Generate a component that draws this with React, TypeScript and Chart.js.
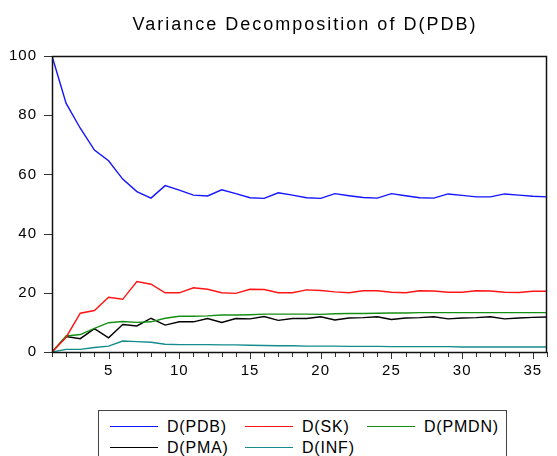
import React, { useEffect, useRef } from "react";
import { Chart, registerables } from "chart.js";

Chart.register(...registerables);

const TITLE = "Variance Decomposition of D(PDB)";
const periods = [1, 2, 3, 4, 5, 6, 7, 8, 9, 10, 11, 12, 13, 14, 15, 16, 17, 18, 19, 20, 21, 22, 23, 24, 25, 26, 27, 28, 29, 30, 31, 32, 33, 34, 35, 36];
const xTickLabels = [5, 10, 15, 20, 25, 30, 35];
const yTicks = [0, 20, 40, 60, 80, 100];

const seriesNames = ["D(PDB)", "D(SK)", "D(PMDN)", "D(PMA)", "D(INF)"];
const seriesColors = ["#1414ff", "#ff1414", "#139013", "#000000", "#148c8c"];

const pdb = [100, 84.0, 75.6, 68.2, 64.6, 58.4, 54.2, 52.0, 56.2, 54.7, 53.0, 52.7, 54.8, 53.5, 52.1, 51.9, 53.8, 53.0, 52.1, 51.9, 53.5, 52.8, 52.2, 52.0, 53.5, 52.8, 52.1, 52.0, 53.4, 52.9, 52.4, 52.4, 53.4, 53.0, 52.6, 52.4];
const sk = [0, 5.0, 13.1, 14.0, 18.5, 17.8, 23.8, 22.9, 20.0, 20.0, 21.7, 21.2, 20.0, 19.8, 21.2, 21.1, 20.0, 20.0, 21.0, 20.8, 20.3, 20.0, 20.7, 20.7, 20.2, 20.0, 20.7, 20.6, 20.2, 20.2, 20.7, 20.6, 20.2, 20.1, 20.5, 20.5];
const pmdn = [0, 5.4, 5.9, 8.0, 9.9, 10.3, 10.0, 10.2, 11.4, 12.1, 12.1, 12.2, 12.5, 12.5, 12.6, 12.8, 12.8, 12.8, 12.8, 12.7, 12.9, 13.0, 13.0, 13.1, 13.2, 13.2, 13.3, 13.3, 13.3, 13.3, 13.3, 13.3, 13.3, 13.3, 13.3, 13.3];
const pma = [0, 5.2, 4.5, 7.9, 4.8, 9.3, 8.8, 11.4, 9.1, 10.2, 10.2, 11.3, 10.0, 11.3, 11.2, 12.0, 10.7, 11.3, 11.3, 11.9, 10.8, 11.5, 11.6, 11.9, 11.0, 11.5, 11.6, 11.9, 11.2, 11.5, 11.6, 11.9, 11.2, 11.5, 11.7, 11.8];
const inf = [0, 0.9, 0.9, 1.5, 2.0, 3.7, 3.5, 3.3, 2.6, 2.5, 2.5, 2.5, 2.4, 2.4, 2.3, 2.2, 2.1, 2.1, 2.0, 2.0, 2.0, 1.9, 1.9, 1.9, 1.8, 1.8, 1.8, 1.8, 1.8, 1.7, 1.7, 1.7, 1.7, 1.7, 1.7, 1.7];

const seriesValues = [pdb, sk, pmdn, pma, inf];

const framePlugin = {
  id: "frame",
  beforeDraw(chart: any) {
    chart.ctx.letterSpacing = "1px";
  },
  afterDraw(chart: any) {
    const { ctx, chartArea, scales } = chart;
    const { left, right, top, bottom } = chartArea;
    ctx.save();
    ctx.strokeStyle = "#333";
    ctx.lineWidth = 1;
    // ticks x
    for (const p of periods) {
      const x = Math.round(scales.x.getPixelForValue(p)) + 0.5;
      const len = p % 5 === 0 ? 7 : 5;
      ctx.beginPath();
      ctx.moveTo(x, bottom);
      ctx.lineTo(x, bottom + len);
      ctx.stroke();
    }
    for (const v of yTicks) {
      const y = Math.round(scales.y.getPixelForValue(v)) + 0.5;
      ctx.beginPath();
      ctx.moveTo(left - 8, y);
      ctx.lineTo(left, y);
      ctx.stroke();
    }
    ctx.strokeStyle = "#111";
    ctx.lineWidth = 1.5;
    ctx.strokeRect(Math.round(left) + 0.5, Math.round(top) + 0.5, Math.round(right - left) - 1, Math.round(bottom - top));
    ctx.restore();
  },
};

export default function App() {
  const ref = useRef<HTMLCanvasElement | null>(null);
  useEffect(() => {
    if (!ref.current) return;
    const chart = new Chart(ref.current, {
      type: "line",
      data: {
        datasets: seriesNames.map((name, i) => ({
          label: name,
          data: periods.map((p, j) => ({ x: p, y: seriesValues[i][j] })),
          borderColor: seriesColors[i],
          backgroundColor: seriesColors[i],
          borderWidth: 1.4,
          pointRadius: 0,
          tension: 0,
          fill: false,
        })),
      },
      options: {
        animation: false,
        responsive: false,
        maintainAspectRatio: false,
        layout: { padding: { top: 56, left: 0, right: 2, bottom: 0 } },
        plugins: { legend: { display: false }, title: { display: false }, tooltip: { enabled: false } },
        scales: {
          x: {
            type: "linear",
            min: 1,
            max: 36,
            afterFit: (s: any) => { s.height = 48; },
            grid: { display: false, drawTicks: false },
            border: { display: false },
            ticks: {
              stepSize: 1,
              autoSkip: false,
              maxRotation: 0,
              padding: 10,
              color: "#000",
              font: { family: "Liberation Sans, Arial, sans-serif", size: 15 },
              callback: (v: any) => (xTickLabels.includes(Number(v)) ? String(v) : ""),
            },
          },
          y: {
            min: 0,
            max: 100,
            afterFit: (s: any) => { s.width = 52; },
            grid: { display: false, drawTicks: false },
            border: { display: false },
            ticks: {
              stepSize: 20,
              padding: 15,
              color: "#000",
              font: { family: "Liberation Sans, Arial, sans-serif", size: 15 },
            },
          },
        },
      },
      plugins: [framePlugin],
    });
    return () => chart.destroy();
  }, []);

  const font = "Liberation Sans, Arial, sans-serif";
  const legendCols = [
    { line: 12, text: 69 },
    { line: 147, text: 204 },
    { line: 269, text: 326 },
  ];
  const rows = [15.5, 36.5];

  return (
    <div style={{ position: "fixed", left: 0, top: 0, width: 557, height: 456, background: "#fff", overflow: "hidden" }}>
      <canvas ref={ref} width={557} height={400} style={{ position: "absolute", left: 0, top: 0, width: 557, height: 400 }} />
      <div
        style={{
          position: "absolute",
          left: 305,
          top: 13,
          transform: "translateX(-50%)",
          whiteSpace: "nowrap",
          fontFamily: font,
          fontSize: 18,
          lineHeight: "22px",
          letterSpacing: "2px",
          color: "#000",
        }}
      >
        {TITLE}
      </div>
      <div
        style={{
          position: "absolute",
          left: 98,
          top: 410,
          width: 409,
          height: 60,
          border: "1px solid #444",
          boxSizing: "border-box",
        }}
      >
        {seriesNames.map((name, i) => {
          const col = legendCols[i % 3];
          const row = rows[Math.floor(i / 3)];
          return (
            <React.Fragment key={name}>
              <div style={{ position: "absolute", left: col.line - 1, top: row - 1, width: 48, height: 1, background: seriesColors[i] }} />
              <div
                style={{
                  position: "absolute",
                  left: col.text - 1,
                  top: row - 10,
                  fontFamily: font,
                  fontSize: 16,
                  lineHeight: "20px",
                  letterSpacing: "0.8px",
                  whiteSpace: "nowrap",
                  color: "#000",
                }}
              >
                {name}
              </div>
            </React.Fragment>
          );
        })}
      </div>
    </div>
  );
}
